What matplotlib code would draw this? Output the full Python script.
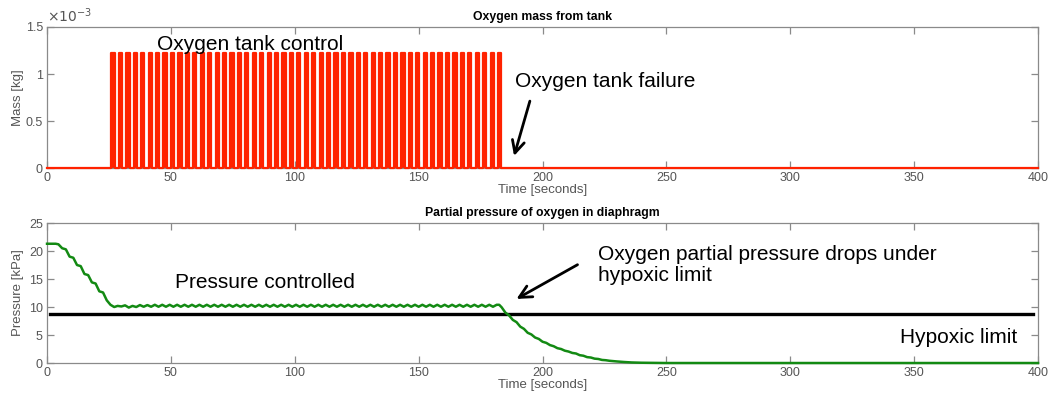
import numpy as np
import matplotlib.pyplot as plt

plt.rcParams['font.family'] = ['Liberation Sans', 'DejaVu Sans']

# Oxygen tank valve openings [s] and released mass per opening [kg]
pulse_starts = [26.0, 29.0, 32.0, 35.0, 38.0, 41.0, 44.0, 47.0, 50.0, 53.0,
                56.0, 59.0, 62.0, 65.0, 68.0, 71.0, 74.0, 77.0, 80.0, 83.0,
                86.0, 89.0, 92.0, 95.0, 98.0, 101.0, 104.0, 107.0, 110.0, 113.0,
                116.0, 119.0, 122.0, 125.0, 128.0, 131.0, 134.0, 137.0, 140.0, 143.0,
                146.0, 149.0, 152.0, 155.0, 158.0, 161.0, 164.0, 167.0, 170.0, 173.0,
                176.0, 179.0, 182.0]
pulse_mass = 1.22e-3
pulse_width = 1.3
t_end = 400.0

# Partial pressure of oxygen in the diaphragm [kPa]
p_time = [0.0, 3.5, 4.6, 6.1, 7.6, 9.1, 10.6, 12.1, 13.6, 15.1, 16.6, 18.1,
          19.6, 21.1, 22.6, 24.1, 25.6, 27.1,
          28.5, 30.0, 31.5, 33.0, 34.5, 36.0, 37.5, 39.0, 40.5, 42.0, 43.5, 45.0,
          46.5, 48.0, 49.5, 51.0, 52.5, 54.0, 55.5, 57.0, 58.5, 60.0, 61.5, 63.0,
          64.5, 66.0, 67.5, 69.0, 70.5, 72.0, 73.5, 75.0, 76.5, 78.0, 79.5, 81.0,
          82.5, 84.0, 85.5, 87.0, 88.5, 90.0, 91.5, 93.0, 94.5, 96.0, 97.5, 99.0,
          100.5, 102.0, 103.5, 105.0, 106.5, 108.0, 109.5, 111.0, 112.5, 114.0, 115.5, 117.0,
          118.5, 120.0, 121.5, 123.0, 124.5, 126.0, 127.5, 129.0, 130.5, 132.0, 133.5, 135.0,
          136.5, 138.0, 139.5, 141.0, 142.5, 144.0, 145.5, 147.0, 148.5, 150.0, 151.5, 153.0,
          154.5, 156.0, 157.5, 159.0, 160.5, 162.0, 163.5, 165.0, 166.5, 168.0, 169.5, 171.0,
          172.5, 174.0, 175.5, 177.0, 178.5, 180.0, 181.5, 182.5,
          183.5, 185.0, 186.5, 188.0, 189.5, 191.0, 192.5, 194.0, 195.5, 197.0, 198.5, 200.0,
          201.5, 203.0, 204.5, 206.0, 207.5, 209.0, 210.5, 212.0, 213.5, 215.0, 216.5, 218.0,
          219.5, 221.0, 222.5, 224.0, 225.5, 227.0, 230.0, 233.0, 236.0, 240.0, 245.0, 250.0,
          400.0]
p_value = [21.3, 21.3, 21.2, 20.5, 20.3, 19.0, 18.8, 17.5, 17.3, 15.9, 15.7, 14.4,
           14.2, 12.8, 12.6, 11.2, 10.4, 10.0,
           10.2, 10.1, 10.3, 9.9, 10.2, 10.0, 10.35, 10.05, 10.35, 10.05, 10.4, 10.05,
           10.4, 10.05, 10.4, 10.05, 10.4, 10.05, 10.4, 10.05, 10.4, 10.05, 10.4, 10.05,
           10.4, 10.05, 10.4, 10.05, 10.4, 10.05, 10.4, 10.05, 10.4, 10.05, 10.4, 10.05,
           10.4, 10.05, 10.4, 10.05, 10.4, 10.05, 10.4, 10.05, 10.4, 10.05, 10.4, 10.05,
           10.4, 10.05, 10.4, 10.05, 10.4, 10.05, 10.4, 10.05, 10.4, 10.05, 10.4, 10.05,
           10.4, 10.05, 10.4, 10.05, 10.4, 10.05, 10.4, 10.05, 10.4, 10.05, 10.4, 10.05,
           10.4, 10.05, 10.4, 10.05, 10.4, 10.05, 10.4, 10.05, 10.4, 10.05, 10.4, 10.05,
           10.4, 10.05, 10.4, 10.05, 10.4, 10.05, 10.4, 10.05, 10.4, 10.05, 10.4, 10.05,
           10.4, 10.05, 10.4, 10.05, 10.4, 10.05, 10.4, 10.4,
           9.95, 9.0, 8.5, 7.7, 7.3, 6.5, 6.1, 5.4, 5.1, 4.55, 4.3, 3.8,
           3.6, 3.2, 3.0, 2.65, 2.5, 2.2, 2.05, 1.8, 1.7, 1.4, 1.3, 1.05,
           0.98, 0.78, 0.72, 0.55, 0.5, 0.4, 0.28, 0.18, 0.1, 0.05, 0.02, 0.0,
           0.0]

# Hypoxic limit [kPa]
hypoxic_time = [1.0, 398.0]
hypoxic_value = [8.7, 8.7]

# build the on/off valve signal from the opening list
mass_t = [0.0]
mass_m = [0.0]
for s in pulse_starts:
    mass_t += [s, s, s + pulse_width, s + pulse_width]
    mass_m += [0.0, pulse_mass, pulse_mass, 0.0]
mass_t.append(t_end)
mass_m.append(0.0)

axis_grey = '#8a8a8a'
label_grey = '#555555'
note_size = 15
arrow_props = dict(arrowstyle='->', color='black', lw=2.0, mutation_scale=22)


def style_axes(ax):
    for s in ax.spines.values():
        s.set_color(axis_grey)
        s.set_linewidth(0.9)
    ax.tick_params(direction='in', top=True, right=True, length=5, width=0.9,
                   colors=axis_grey, labelcolor=label_grey, labelsize=9, pad=3)
    ax.set_xlim(0, 400)
    ax.set_xticks(np.arange(0, 401, 50))
    ax.set_xlabel('Time [seconds]', fontsize=9.5, color=label_grey, labelpad=0)
    ax.yaxis.set_label_coords(-0.023, 0.5)


fig = plt.figure(figsize=(10.5, 3.93), dpi=100)
ax1 = fig.add_axes([0.0448, 0.5725, 0.9438, 0.3588])
ax2 = fig.add_axes([0.0448, 0.0763, 0.9438, 0.3562])

# --- oxygen mass from tank ---
style_axes(ax1)
ax1.fill_between(mass_t, mass_m, color='#ff2200', linewidth=0)
ax1.plot(mass_t, mass_m, color='#ff2200', linewidth=1.6, clip_on=False, zorder=3)
ax1.set_ylim(0, 1.5e-3)
ax1.set_yticks([0, 0.5e-3, 1e-3, 1.5e-3])
ax1.set_yticklabels(['0', '0.5', '1', '1.5'])
ax1.text(0.0, 1.015, r'$\times10^{-3}$', transform=ax1.transAxes, fontsize=10,
         color=label_grey, ha='left', va='bottom')
ax1.set_ylabel('Mass [kg]', fontsize=9.5, color=label_grey)
ax1.set_title('Oxygen mass from tank', fontsize=8.8, fontweight='bold', pad=5)

ax1.text(44.4, 1.31e-3, 'Oxygen tank control', fontsize=note_size, ha='left', va='center')
ax1.text(188.9, 0.915e-3, 'Oxygen tank failure', fontsize=note_size, ha='left', va='center')
ax1.annotate('', xy=(188.2, 0.1e-3), xytext=(195.2, 0.74e-3), arrowprops=arrow_props)

# --- partial pressure of oxygen ---
style_axes(ax2)
ax2.plot(hypoxic_time, hypoxic_value, color='black', linewidth=2.4)
ax2.plot(p_time, p_value, color='#138a13', linewidth=1.8, clip_on=False, zorder=3)
ax2.set_ylim(0, 25)
ax2.set_yticks(np.arange(0, 26, 5))
ax2.set_ylabel('Pressure [kPa]', fontsize=9.5, color=label_grey)
ax2.set_title('Partial pressure of oxygen in diaphragm', fontsize=8.8,
              fontweight='bold', pad=5)

ax2.text(51.7, 14.3, 'Pressure controlled', fontsize=note_size, ha='left', va='center')
ax2.text(222.4, 17.5, 'Oxygen partial pressure drops under\nhypoxic limit',
         fontsize=note_size, ha='left', va='center', linespacing=1.15)
ax2.text(344.3, 4.6, 'Hypoxic limit', fontsize=note_size, ha='left', va='center')
ax2.annotate('', xy=(188.5, 11.2), xytext=(215.1, 17.8), arrowprops=arrow_props)

fig.savefig('out.png', dpi=100)
